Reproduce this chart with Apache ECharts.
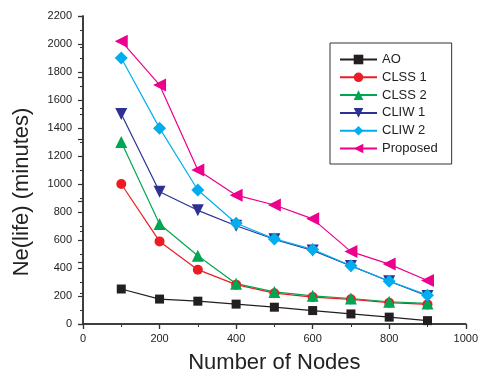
<!DOCTYPE html>
<html>
<head>
<meta charset="utf-8">
<script src="https://cdn.jsdelivr.net/npm/echarts@6/dist/echarts.min.js"></script>
<style>
  html, body { margin: 0; padding: 0; background: #fff; }
  #chart { width: 481px; height: 379px; }
</style>
</head>
<body>
<div id="chart"></div>
<script>
// x 轴：节点数
const nodes = [100, 200, 300, 400, 500, 600, 700, 800, 900];
// 各方案的寿命 (minutes)
const ao = [250, 178, 163, 142, 120, 96, 72, 49, 24];
const clss1 = [1000, 590, 388, 281, 220, 192, 176, 152, 140];
const clss2 = [1300, 714, 487, 288, 229, 201, 182, 159, 147];
const cliw1 = [1500, 945, 812, 702, 605, 525, 415, 305, 200];
const cliw2 = [1900, 1399, 957, 720, 608, 533, 416, 306, 206];
const proposed = [2020, 1708, 1100, 920, 850, 751, 517, 428, 311];
const seriesNames = ["AO", "CLSS 1", "CLSS 2", "CLIW 1", "CLIW 2", "Proposed"];

const FONT = "'Liberation Sans', Arial, Helvetica, sans-serif";
const AXIS_COLOR = "#333";

function pairs(vals) {
  return nodes.map((n, i) => [n, vals[i]]);
}

function mkSeries(name, vals, color, symbol, size, rotate) {
  return {
    name: name,
    type: "line",
    xAxisIndex: 0,
    yAxisIndex: 0,
    data: pairs(vals),
    symbol: symbol,
    symbolSize: size,
    symbolRotate: rotate || 0,
    lineStyle: { color: color, width: 1.2 },
    itemStyle: { color: color },
    emphasis: { disabled: true }
  };
}

let chart = echarts.init(document.getElementById("chart"));
chart.setOption({
  animation: false,
  textStyle: { fontFamily: FONT },
  grid: { left: 83, right: 11, top: 16, bottom: 50 },
  legend: {
    orient: "vertical",
    left: 330,
    top: 43,
    padding: [10, 14, 9, 9],
    itemWidth: 37,
    itemHeight: 12,
    itemGap: 4.8,
    borderColor: "#333",
    borderWidth: 1,
    textStyle: { fontSize: 13, color: "#222", fontFamily: FONT },
    data: seriesNames
  },
  xAxis: [
    {
      type: "value",
      min: 0,
      max: 1000,
      interval: 200,
      name: "Number of Nodes",
      nameLocation: "middle",
      nameGap: 28,
      nameTextStyle: { fontSize: 22, color: "#222", fontFamily: FONT },
      axisLine: { lineStyle: { color: AXIS_COLOR, width: 1.5 } },
      axisTick: { inside: false, length: 5, lineStyle: { color: AXIS_COLOR, width: 1.2 } },
      minorTick: { show: true, splitNumber: 2, length: 3, lineStyle: { color: AXIS_COLOR, width: 1 } },
      axisLabel: { fontSize: 11, color: "#222", margin: 9, formatter: v => String(v) },
      splitLine: { show: false }
    },
    {
      type: "value",
      position: "top",
      min: 0,
      max: 1000,
      interval: 200,
      axisLine: { lineStyle: { color: AXIS_COLOR, width: 1.5 } },
      axisTick: { inside: true, length: 5, lineStyle: { color: AXIS_COLOR, width: 1.2 } },
      minorTick: { show: true, splitNumber: 2, length: 3, lineStyle: { color: AXIS_COLOR, width: 1 } },
      axisLabel: { show: false },
      splitLine: { show: false }
    }
  ],
  yAxis: [
    {
      type: "value",
      min: 0,
      max: 2200,
      interval: 200,
      axisLine: { show: true, lineStyle: { color: AXIS_COLOR, width: 1.5 } },
      axisTick: { show: true, inside: false, length: 5, lineStyle: { color: AXIS_COLOR, width: 1.2 } },
      minorTick: { show: true, splitNumber: 2, length: 3, lineStyle: { color: AXIS_COLOR, width: 1 } },
      axisLabel: { fontSize: 11, color: "#222", margin: 11, formatter: v => String(v) },
      splitLine: { show: false }
    },
    {
      type: "value",
      position: "right",
      min: 0,
      max: 2200,
      interval: 440,
      axisLine: { show: true, lineStyle: { color: AXIS_COLOR, width: 1.5 } },
      axisTick: { show: true, inside: true, length: 5, lineStyle: { color: AXIS_COLOR, width: 1.2 } },
      minorTick: { show: true, splitNumber: 2, length: 3, lineStyle: { color: AXIS_COLOR, width: 1 } },
      axisLabel: { show: false },
      splitLine: { show: false }
    }
  ],
  graphic: [
    {
      type: "text",
      x: 22,
      y: 192,
      rotation: Math.PI / 2,
      style: {
        text: "Ne(life) (minutes)",
        font: "22px " + FONT,
        fill: "#222",
        align: "center",
        verticalAlign: "middle"
      }
    }
  ],
  series: [
    mkSeries("AO", ao, "#231f20", "rect", 9),
    mkSeries("CLSS 1", clss1, "#ed1c24", "circle", 10),
    mkSeries("CLSS 2", clss2, "#00a651", "triangle", 12),
    mkSeries("CLIW 1", cliw1, "#2e3192", "triangle", 12, 180),
    mkSeries("CLIW 2", cliw2, "#00aeef", "diamond", 13),
    mkSeries("Proposed", proposed, "#ec008c", "triangle", 13, 90)
  ]
});
</script>
</body>
</html>
